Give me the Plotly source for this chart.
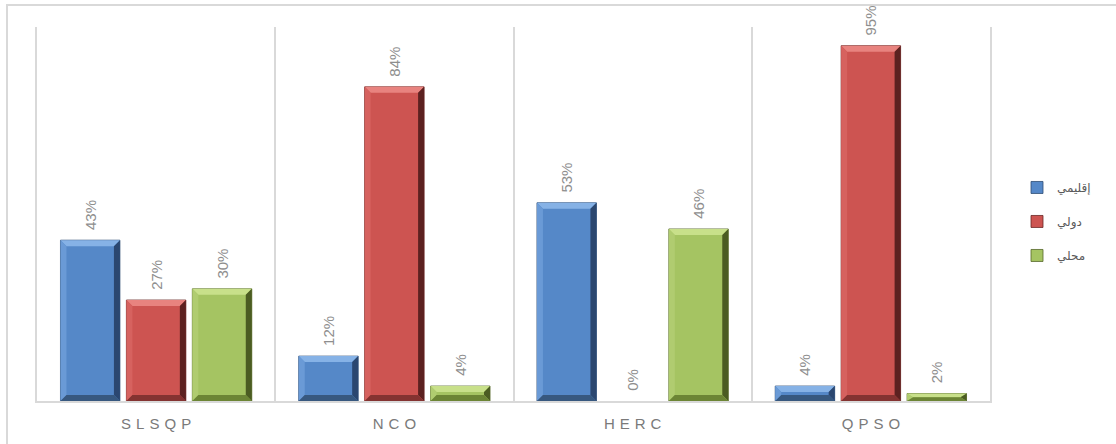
import plotly.graph_objects as go

# Categories and series shares (%)
methods = ["SLSQP", "NCO", "HERC", "QPSO"]
series_names = ["إقليمي", "دولي", "محلي"]
regional = [43, 12, 53, 4]
international = [27, 84, 0, 95]
local = [30, 4, 46, 2]

series_values = [regional, international, local]

# face, highlight (top), soft light (left), dark (right), darker (bottom), outline
palettes = [
    dict(face="#5588c8", top="#86b2e6", left="#6a9ad6", right="#2b4770", bottom="#37587f", line="#2e4c74"),
    dict(face="#cd5451", top="#e8837f", left="#d6625f", right="#5c2120", bottom="#843331", line="#6a2725"),
    dict(face="#a5c462", top="#c8e08a", left="#b0cc70", right="#4b5c22", bottom="#6c8535", line="#55672a"),
]

W, H = 1116, 444
ML, MR, MT, MB = 37, 126, 27, 41
plot_w = W - ML - MR
plot_h = H - MT - MB
y_max = 100

slot = 0.2767          # spacing between bars of one group (category units)
bar_w = 0.2495         # bar width (category units)
px_x = plot_w / len(methods)
px_y = plot_h / y_max
bev_x = 6 / px_x
bev_y = 6 / px_y

fig = go.Figure()

for i, (name, vals, pal) in enumerate(zip(series_names, series_values, palettes)):
    xs = [k + (i - 1) * slot for k in range(len(methods))]
    fig.add_trace(go.Bar(
        x=xs, y=vals, width=bar_w, name=name,
        legendgroup=name,
        marker=dict(color=pal["face"],
                    line=dict(color=pal["line"], width=[0.8 if v > 0 else 0 for v in vals])),
        texttemplate="\u00a0\u2009%{y}%", textposition="outside", textangle=-90,
        outsidetextfont=dict(family="Liberation Sans, sans-serif", size=15, color="#8e8e8e"),
        cliponaxis=False, constraintext="none", hoverinfo="skip",
    ))

    # bevel facets for each bar of the series
    facets = {"top": ([], []), "left": ([], []), "right": ([], []), "bottom": ([], [])}
    for x, v in zip(xs, vals):
        if v <= 0:
            continue
        x0, x1 = x - bar_w / 2, x + bar_w / 2
        by = min(bev_y, v / 2)
        bx = bev_x
        polys = {
            "top": [(x0, v), (x1, v), (x1 - bx, v - by), (x0 + bx, v - by)],
            "left": [(x0, 0), (x0 + bx, by), (x0 + bx, v - by), (x0, v)],
            "right": [(x1, 0), (x1, v), (x1 - bx, v - by), (x1 - bx, by)],
            "bottom": [(x0, 0), (x1, 0), (x1 - bx, by), (x0 + bx, by)],
        }
        for key, pts in polys.items():
            fx, fy = facets[key]
            fx.extend([p[0] for p in pts] + [pts[0][0], None])
            fy.extend([p[1] for p in pts] + [pts[0][1], None])
    for key, (fx, fy) in facets.items():
        fig.add_trace(go.Scatter(
            x=fx, y=fy, mode="lines", fill="toself", fillcolor=pal[key],
            line=dict(width=0), showlegend=False, legendgroup=name,
            hoverinfo="skip",
        ))

fig.update_layout(
    width=W, height=H,
    margin=dict(l=ML, r=MR, t=MT, b=MB),
    paper_bgcolor="white", plot_bgcolor="white",
    barmode="overlay",
    showlegend=True,
    legend=dict(
        x=(1017 - ML) / plot_w, y=0.48, xanchor="left", yanchor="middle",
        font=dict(family="DejaVu Sans, sans-serif", size=12, color="#595959"),
        tracegroupgap=15, bgcolor="rgba(0,0,0,0)",
    ),
    xaxis=dict(
        range=[-0.5, len(methods) - 0.5],
        tickmode="array",
        tickvals=list(range(len(methods))),
        ticktext=["\u2004".join(m) for m in methods],
        tickfont=dict(family="Liberation Sans, sans-serif", size=15, color="#7a7a7a"),
        ticks="outside", ticklen=8, tickcolor="rgba(0,0,0,0)",
        showgrid=False, zeroline=False,
        showline=True, linecolor="#d9d9d9", linewidth=2,
        minor=dict(tickmode="array", tickvals=[k + 0.5 for k in range(len(methods) - 1)],
                   showgrid=True, gridcolor="#d9d9d9", gridwidth=2, ticks=""),
        fixedrange=True,
    ),
    yaxis=dict(
        range=[0, y_max], showticklabels=False, showgrid=False, zeroline=False,
        showline=True, mirror=True, linecolor="#d9d9d9", linewidth=2, ticks="",
        fixedrange=True,
    ),
    shapes=[dict(
        type="rect", xref="paper", yref="paper",
        x0=(7 - ML) / plot_w, x1=(W + 10 - ML) / plot_w,
        y0=-(MB + 10) / plot_h, y1=1 + (MT - 5) / plot_h,
        line=dict(color="#d9d9d9", width=2), layer="below",
    )],
)

fig.write_html("out.html")
